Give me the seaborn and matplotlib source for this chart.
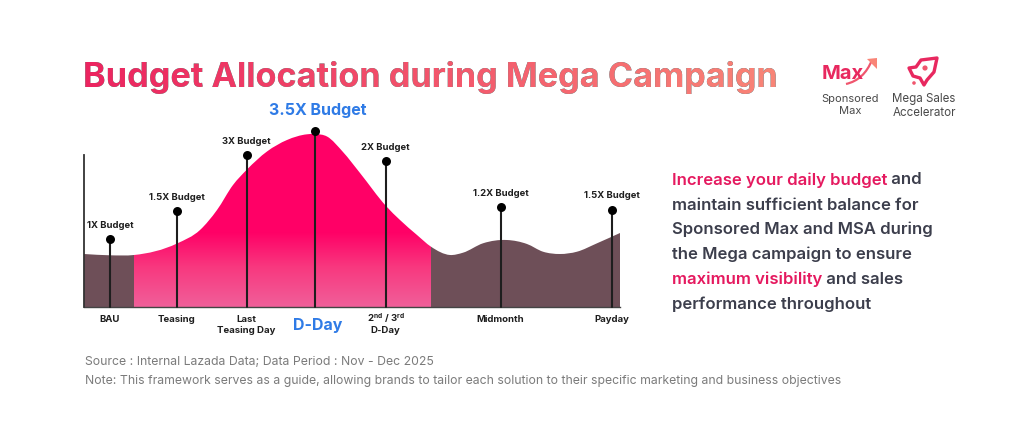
import numpy as np
import pandas as pd
import matplotlib
matplotlib.use("Agg")
import matplotlib.pyplot as plt
from matplotlib.colors import to_rgb
from matplotlib.patches import Polygon, PathPatch, Circle
from matplotlib.path import Path
from matplotlib.transforms import Affine2D
import seaborn as sns

# ---- data -------------------------------------------------------------
curve_x = [84, 110, 134, 177, 200, 217, 233, 247, 267, 287, 307, 315, 327, 343, 360, 386, 400,
           417, 431, 450, 463, 483, 507, 527, 543, 560, 577, 597, 620]
curve_h = [53, 51.7, 52, 63.5, 77, 97, 122, 137.5, 155.5, 167, 172.7, 173, 170.5, 155, 134, 101, 87,
           72, 60.3, 52, 54.3, 63.7, 67, 63, 55.3, 53, 55.3, 63.7, 74]
pink_start, pink_end = 134, 431

moment_x = [110, 177, 246.5, 315, 385.5, 500.5, 611.5]
moment_h = [68, 96, 152, 176, 146, 100, 97]
moment_labels = ["BAU", "Teasing", "Last\nTeasing Day", "D-Day",
                 "2$^{nd}$ / 3$^{rd}$\nD-Day", "Midmonth", "Payday"]
budget_labels = ["1X Budget", "1.5X Budget", "3X Budget", "3.5X Budget",
                 "2X Budget", "1.2X Budget", "1.5X Budget"]

title_text = "Budget Allocation during Mega Campaign"
body_lines = [
    [("Increase your daily budget", "p"), (" and", "d")],
    [("maintain sufficient balance for", "d")],
    [("Sponsored Max and MSA during", "d")],
    [("the Mega campaign to ensure", "d")],
    [("maximum visibility", "p"), (" and sales", "d")],
    [("performance throughout", "d")],
]
source_text = "Source : Internal Lazada Data; Data Period : Nov - Dec 2025"
note_text = ("Note: This framework serves as a guide, allowing brands to tailor each solution "
             "to their specific marketing and business objectives")

# ---- styles -----------------------------------------------------------
W, H = 1024, 443
PINK, PINK_LOW = "#FF0066", "#F0609A"
BROWN = "#6E4F58"
BLUE = "#2F7BE6"
INK = "#1E1E1E"
BODY = "#3C3E4C"
BODY_PINK = "#E5195F"
GREY = "#7B7B7B"
FONT = "Inter"

sns.set_theme(style="white")
plt.rcParams["font.family"] = [FONT, "DejaVu Sans"]
plt.rcParams["mathtext.default"] = "regular"

fig = plt.figure(figsize=(W / 100, H / 100), dpi=100, facecolor="white")


def fx(px):
    return px / W


def fy(py):
    return 1 - py / H


ax = fig.add_axes([fx(84), fy(307), (620 - 84) / W, (307 - 120) / H])
ax.patch.set_alpha(0)

# smooth outline through the read points (cubic Hermite segments as a Bezier path)
P = np.column_stack([curve_x, curve_h]).astype(float)
slopes = np.gradient(P[:, 1], P[:, 0])
verts = [(P[0, 0], 0), tuple(P[0])]
codes = [Path.MOVETO, Path.LINETO]
for i in range(len(P) - 1):
    dx = (P[i + 1, 0] - P[i, 0]) / 3
    verts += [(P[i, 0] + dx, P[i, 1] + slopes[i] * dx),
              (P[i + 1, 0] - dx, P[i + 1, 1] - slopes[i + 1] * dx),
              tuple(P[i + 1])]
    codes += [Path.CURVE4] * 3
verts += [(P[-1, 0], 0), (P[0, 0], 0)]
codes += [Path.LINETO, Path.CLOSEPOLY]
area = PathPatch(Path(verts, codes), transform=ax.transData, fc="none", ec="none")
ax.add_patch(area)

# colour field: brown outside the campaign window, vertical pink gradient inside
ny, nx = 380, 1072
xs = np.linspace(84, 620, nx)
ys = np.linspace(0, 190, ny)
stops_h = [0, 40, 75, 190]
stops_c = np.array([to_rgb(PINK_LOW), to_rgb("#F8387F"), to_rgb(PINK), to_rgb(PINK)])
col = np.stack([np.interp(ys, stops_h, stops_c[:, k]) for k in range(3)], axis=1)
field = np.tile(col[:, None, :], (1, nx, 1))
field[:, (xs < pink_start) | (xs > pink_end), :] = to_rgb(BROWN)
im = ax.imshow(field, origin="lower", aspect="auto", interpolation="nearest",
               extent=(84, 620, 0, 190), zorder=1)
im.set_clip_path(area)
ax.set_xlim(84, 620)
ax.set_ylim(0, 187)

# stems and dots through seaborn
stem_df = pd.DataFrame({
    "x": np.repeat(moment_x, 2),
    "h": np.ravel([[0, h] for h in moment_h]),
    "id": np.repeat(np.arange(len(moment_x)), 2),
})
sns.lineplot(data=stem_df, x="x", y="h", units="id", estimator=None, color=INK, lw=1.5,
             ax=ax, zorder=3, legend=False, clip_on=False, sort=False)
sns.scatterplot(x=moment_x, y=moment_h, color="black", s=42, ax=ax, zorder=4,
                linewidth=0, clip_on=False, legend=False)

for x, h, lab in zip(moment_x, moment_h, budget_labels):
    if lab.startswith("3.5X"):
        ax.annotate(lab, (x, h), xytext=(3, 21), textcoords="offset pixels", ha="center", va="center",
                    color=BLUE, fontsize=11.5, fontweight="bold")
    else:
        ax.annotate(lab, (x, h), xytext=(0, 14), textcoords="offset pixels", ha="center", va="center",
                    color=INK, fontsize=6.8, fontweight="bold")

ax.set_xticks(moment_x)
ax.set_xticklabels(moment_labels, fontsize=6.9, fontweight="bold", color=INK, linespacing=1.2)
ax.tick_params(axis="x", length=0, pad=6)
ax.set_yticks([])
ax.set_xlabel("")
ax.set_ylabel("")
tick_labels = ax.get_xticklabels()
dday = tick_labels[3]
dday.set_color(BLUE)
dday.set_fontsize(11.5)
dday.set_transform(dday.get_transform() + Affine2D().translate(3, -3))
second = tick_labels[4]
second.set_transform(second.get_transform() + Affine2D().translate(0, 4))
for s in ["top", "right"]:
    ax.spines[s].set_visible(False)
ax.spines["left"].set_bounds(0, 152)
ax.spines["left"].set_color("#333333")
ax.spines["left"].set_linewidth(1.3)
ax.spines["bottom"].set_color("#444444")
ax.spines["bottom"].set_linewidth(1.0)
ax.spines["left"].set_zorder(5)

# title with horizontal colour gradient kept as a single real text
c0, c1 = np.array(to_rgb("#EC2460")), np.array(to_rgb("#F98577"))


def title_gradient(img, dpi):
    out = img.copy()
    t = np.linspace(0, 1, img.shape[1])[None, :, None]
    colr = c0[None, None, :] * (1 - t) + c1[None, None, :] * t
    out[..., :3] = colr * img[..., 3:4]
    return out, 0, 0


title = fig.text(fx(83), fy(77), title_text, fontsize=24.65, fontweight="bold",
                 ha="left", va="center", color="black")
title.set_agg_filter(title_gradient)

# logos: simple drawn marks with real text
lax = fig.add_axes([0, 0, 1, 1], facecolor="none")
lax.set_xlim(0, W)
lax.set_ylim(H, 0)
lax.axis("off")
lax.set_zorder(-1)
lax.add_patch(PathPatch(Path([(846, 84), (864, 80), (872, 60)], [Path.MOVETO, Path.CURVE3, Path.CURVE3]),
                        fc="none", ec="#F0566E", lw=1.6))
lax.add_patch(Polygon([(867, 59), (877, 58), (877, 69)], fc="#F98577", ec="none"))
rocket = [(937, 58), (934, 72), (927, 80), (924, 85), (920, 78), (913, 76), (909, 68), (916, 67), (921, 60)]
lax.add_patch(Polygon(rocket, closed=True, fc="none", ec="#E8285F", lw=2.4, joinstyle="round"))
lax.add_patch(Circle((925, 68), 2.6, fc="#F0566E", ec="none"))
lax.add_patch(Circle((914, 83), 1.8, fc="#F0566E", ec="none"))
fig.text(fx(843), fy(74), "Max", fontsize=14.5, fontweight="bold", color="#E8285F",
         ha="center", va="center")

fig.text(fx(850.5), fy(105), "Sponsored\nMax", fontsize=8, color="#4A4A4A", ha="center", va="center",
         linespacing=1.2)
fig.text(fx(924), fy(106), "Mega Sales\nAccelerator", fontsize=8.3, color="#4A4A4A", ha="center", va="center",
         linespacing=1.15)

# right-hand body text
renderer = fig.canvas.get_renderer()
body_y = [180, 205, 229, 254, 279, 304]
BFS = 12
BW = 600
for yy, segs in zip(body_y, body_lines):
    for k, (s, c) in enumerate(segs):
        prefix = "".join(t for t, _ in segs[:k])
        off = 0
        if prefix:
            p = fig.text(0, 0, prefix + s, fontsize=BFS, fontweight=BW)
            q = fig.text(0, 0, s, fontsize=BFS, fontweight=BW)
            off = p.get_window_extent(renderer).width - q.get_window_extent(renderer).width
            p.remove(); q.remove()
        fig.text(fx(672 + off), fy(yy), s, fontsize=BFS, fontweight=BW,
                 color=BODY_PINK if c == "p" else BODY, ha="left", va="center")

fig.text(fx(85), fy(362), source_text, fontsize=8.8, color=GREY, ha="left", va="center")
fig.text(fx(85), fy(381), note_text, fontsize=8.8, color=GREY, ha="left", va="center")

fig.savefig("out.png", dpi=100, facecolor="white")
